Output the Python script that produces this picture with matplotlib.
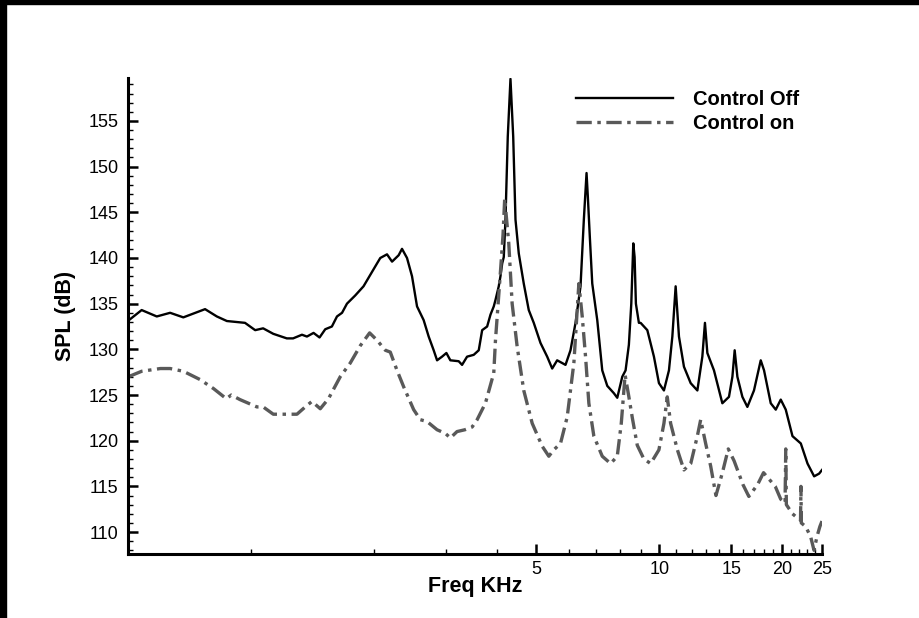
import matplotlib
matplotlib.use('Agg')
import matplotlib.pyplot as plt
from matplotlib.ticker import FixedLocator, FixedFormatter, NullFormatter, MultipleLocator
from matplotlib.patches import Rectangle

plt.rcParams['font.family'] = ['Liberation Sans', 'DejaVu Sans']
plt.rcParams['lines.scale_dashes'] = False

# spectra (frequency in kHz, SPL in dB)
freq_off = [0.506, 0.540, 0.588, 0.634, 0.683, 0.772, 0.825, 0.873, 0.967, 1.024,
            1.071, 1.134, 1.224, 1.268, 1.333, 1.371, 1.423, 1.472, 1.520, 1.578,
            1.624, 1.671, 1.718, 1.80, 1.886, 2.035, 2.073, 2.153, 2.215, 2.299,
            2.343, 2.410, 2.479, 2.550, 2.647, 2.723, 2.801, 2.855, 2.936, 3.009,
            3.077, 3.225, 3.287, 3.381, 3.510, 3.611, 3.681, 3.786, 3.858, 3.930,
            3.968, 4.042, 4.081, 4.121, 4.158, 4.198, 4.253, 4.318, 4.385, 4.442,
            4.525, 4.654, 4.787, 4.924, 5.114, 5.311, 5.463, 5.618, 5.780, 5.889,
            6.057, 6.231, 6.409, 6.530, 6.630, 6.679, 6.754, 6.847, 7.043, 7.244,
            7.452, 7.734, 7.884, 8.109, 8.262, 8.417, 8.532, 8.629, 8.693, 8.757,
            8.906, 8.992, 9.339, 9.694, 9.972, 10.256, 10.550, 10.754, 10.956, 11.163,
            11.481, 11.925, 12.383, 12.735, 12.924, 13.100, 13.598, 14.255, 14.797, 15.086,
            15.281, 15.516, 15.960, 16.415, 17.038, 17.700, 18.033, 18.726, 19.264, 19.814,
            20.381, 21.168, 22.185, 23.040, 23.915, 24.602, 25.0]
spl_off = [133.3, 134.3, 133.6, 134.0, 133.5, 134.4, 133.6, 133.1, 132.9, 132.1,
           132.3, 131.7, 131.2, 131.2, 131.6, 131.4, 131.8, 131.3, 132.2, 132.5,
           133.6, 134.0, 135.0, 135.9, 136.9, 139.4, 140.0, 140.4, 139.6, 140.3,
           141.0, 140.0, 138.0, 134.7, 133.2, 131.4, 129.9, 128.8, 129.2, 129.6,
           128.8, 128.7, 128.3, 129.2, 129.4, 129.9, 132.1, 132.5, 133.8, 134.7,
           135.4, 136.9, 138.0, 139.4, 140.1, 144.2, 153.3, 159.6, 153.3, 144.2,
           140.5, 137.2, 134.3, 132.9, 130.7, 129.2, 127.9, 128.8, 128.5, 128.3,
           129.9, 132.9, 136.9, 144.2, 149.3, 146.7, 142.3, 137.2, 133.2, 127.7,
           126.0, 125.2, 124.7, 127.0, 127.7, 130.5, 135.0, 141.6, 140.1, 135.0,
           132.9, 132.9, 132.1, 129.2, 126.3, 125.5, 127.7, 131.4, 136.9, 131.4,
           128.1, 126.3, 125.5, 129.2, 132.9, 129.6, 127.7, 124.1, 124.8, 127.0,
           129.9, 127.0, 124.8, 123.7, 125.5, 128.8, 127.7, 124.1, 123.4, 124.5,
           123.4, 120.5, 119.7, 117.5, 116.1, 116.4, 116.8]

freq_on = [0.501, 0.540, 0.600, 0.634, 0.683, 0.750, 0.810, 0.870, 0.895, 0.940,
           1.034, 1.071, 1.134, 1.224, 1.296, 1.358, 1.410, 1.478, 1.548, 1.654,
           1.750, 1.852, 1.952, 2.035, 2.133, 2.193, 2.278, 2.365, 2.502, 2.598,
           2.698, 2.855, 2.992, 3.077, 3.195, 3.340, 3.479, 3.578, 3.749, 3.930,
           3.968, 4.081, 4.140, 4.180, 4.277, 4.359, 4.484, 4.654, 4.881, 5.163,
           5.360, 5.512, 5.725, 5.945, 6.173, 6.349, 6.471, 6.593, 6.717, 6.909,
           7.244, 7.593, 7.884, 8.064, 8.240, 8.417, 8.582, 8.825, 9.160, 9.515,
           9.970, 10.256, 10.450, 10.650, 11.065, 11.480, 11.930, 12.380, 12.617, 12.975,
           13.350, 13.750, 14.260, 14.740, 15.230, 16.010, 16.550, 17.390, 17.980, 19.210,
           19.810, 20.300, 20.380, 20.450, 21.170, 21.560, 22.150, 22.200, 22.250, 22.800,
           23.450, 23.900, 24.300, 24.700, 25.0]
spl_on = [127.0, 127.6, 127.9, 127.9, 127.6, 126.7, 125.7, 124.6, 125.0, 124.5,
          123.7, 123.7, 122.9, 122.9, 122.9, 123.7, 124.3, 123.5, 124.6, 127.0,
          128.5, 130.4, 131.8, 131.0, 129.9, 129.7, 127.7, 125.9, 123.4, 122.3,
          122.1, 121.2, 120.8, 120.3, 121.0, 121.2, 121.5, 122.3, 124.1, 127.4,
          131.0, 138.5, 142.5, 146.5, 141.6, 135.0, 130.3, 125.5, 121.9, 119.4,
          118.3, 119.0, 119.7, 122.6, 128.5, 137.2, 133.6, 129.2, 124.1, 120.5,
          118.3, 117.5, 118.3, 121.9, 127.2, 124.8, 122.5, 119.5, 118.0, 117.5,
          119.0, 121.9, 124.8, 121.9, 119.0, 116.8, 117.5, 120.5, 122.3, 119.7,
          117.2, 114.0, 116.5, 119.1, 117.8, 115.2, 113.9, 115.2, 116.5, 115.0,
          113.6, 113.2, 119.1, 113.0, 112.0, 111.7, 111.3, 115.0, 111.0, 110.6,
          109.5, 108.0, 109.5, 110.6, 111.2]

x_major = [5, 10, 15, 20, 25]
x_minor = [1, 2, 3, 4, 6, 7, 8, 9, 11, 12, 13, 14, 16, 17, 18, 19, 21, 22, 23, 24]

fig = plt.figure(figsize=(9.2, 6.18), dpi=100)
ax = fig.add_axes([128 / 920, 64 / 618, 694 / 920, 476 / 618])

ax.plot(freq_off, spl_off, color='black', lw=1.7, label='Control Off')
ax.plot(freq_on, spl_on, color='#595959', lw=2.4, dashes=(11, 4, 2.5, 4),
        label='Control on')

ax.set_xscale('log')
ax.set_xlim(0.5, 25)
ax.set_ylim(107.6, 159.7)
ax.xaxis.set_major_locator(FixedLocator(x_major))
ax.xaxis.set_major_formatter(FixedFormatter([str(t) for t in x_major]))
ax.xaxis.set_minor_locator(FixedLocator(x_minor))
ax.xaxis.set_minor_formatter(NullFormatter())
ax.yaxis.set_major_locator(MultipleLocator(5))
ax.yaxis.set_minor_locator(MultipleLocator(1))

for s in ['top', 'right']:
    ax.spines[s].set_visible(False)
for s in ['left', 'bottom']:
    ax.spines[s].set_linewidth(2.2)

ax.tick_params(which='major', direction='in', length=7, width=1.8, labelsize=13)
ax.tick_params(which='minor', direction='in', length=3.5, width=1)
ax.tick_params(axis='x', which='major', pad=5)
ax.tick_params(axis='y', which='major', pad=7)

ax.set_xlabel('Freq KHz', fontsize=15.5, fontweight='bold')
ax.set_ylabel('SPL (dB)', fontsize=15.5, fontweight='bold')
ax.xaxis.set_label_coords(0.5, -0.046)
ax.yaxis.set_label_coords(-0.075, 0.5)

ax.legend(loc='upper left', bbox_to_anchor=(576 / 920, 1 - 90 / 618),
          bbox_transform=fig.transFigure, frameon=False, borderpad=0,
          borderaxespad=0, handlelength=4.8, handletextpad=1.0,
          labelspacing=0.25, prop={'weight': 'bold', 'size': 14.5})

# slide border
fig.patches.append(Rectangle((0, 0), 6 / 920, 1, transform=fig.transFigure,
                             color='black', zorder=-1))
fig.patches.append(Rectangle((0, 1 - 4 / 618), 1, 4 / 618, transform=fig.transFigure,
                             color='black', zorder=-1))

fig.savefig('out.png', dpi=100)
